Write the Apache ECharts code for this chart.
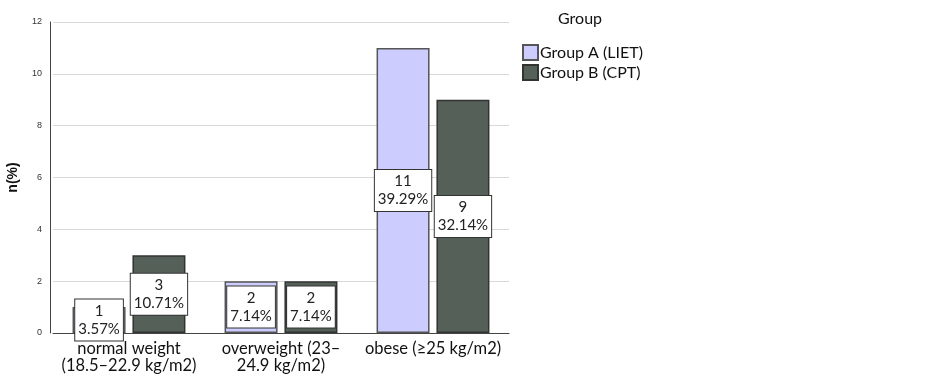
<!DOCTYPE html>
<html>
<head>
<meta charset="utf-8">
<script src="https://cdn.jsdelivr.net/npm/echarts@6/dist/echarts.min.js"></script>
<style>
  html, body { margin: 0; padding: 0; background: #fff; }
  #chart { width: 926px; height: 377px; }
</style>
</head>
<body>
<div id="chart"></div>
<script>
  var categories = ['normal weight\n(18.5–22.9 kg/m2)', 'overweight (23–\n24.9 kg/m2)', 'obese (≥25 kg/m2)']
  var groupA = [1, 2, 11]
  var groupB = [3, 2, 9]
  var pctA = ['3.57%', '7.14%', '39.29%']
  var pctB = ['10.71%', '7.14%', '32.14%']
  var yTicks = [0, 2, 4, 6, 8, 10, 12]

  var labelFont = 'Lato, "Open Sans", sans-serif'

  function boxLabel (pcts) {
    return {
      show: true,
      position: 'inside',
      formatter: function (p) {
        return p.value + '\n' + pcts[p.dataIndex]
      },
      color: '#222',
      fontFamily: labelFont,
      fontSize: 15,
      lineHeight: 18,
      backgroundColor: '#fff',
      borderColor: '#333',
      borderWidth: 1,
      padding: [3, 3, 2, 3],
      align: 'center'
    }
  }

  var myChart = echarts.init(document.getElementById('chart'))
  myChart.setOption({
    animation: false,
    legend: {
      data: ['Group A (LIET)', 'Group B (CPT)'],
      left: 517,
      top: 39,
      orient: 'vertical',
      icon: 'rect',
      itemWidth: 15,
      itemHeight: 15,
      itemGap: 3,
      textStyle: { fontFamily: labelFont, fontSize: 16, color: '#111', padding: [0, 0, 0, -3] }
    },
    graphic: [{
      type: 'text',
      left: 558,
      top: 11,
      style: { text: 'Group', fontFamily: labelFont, fontSize: 16, fill: '#111' }
    }],
    grid: {
      left: 53,
      right: 417,
      top: 22,
      bottom: 44
    },
    xAxis: {
      type: 'category',
      data: categories,
      axisLine: { lineStyle: { color: '#444' } },
      axisTick: { show: false },
      axisLabel: {
        interval: 0,
        margin: 7,
        fontFamily: labelFont,
        fontSize: 16.5,
        lineHeight: 17,
        color: '#111'
      }
    },
    yAxis: {
      type: 'value',
      min: 0,
      max: yTicks[yTicks.length - 1],
      interval: 2,
      offset: 3,
      name: 'n(%)',
      nameLocation: 'middle',
      nameGap: 30,
      nameTextStyle: { fontFamily: 'Liberation Sans, Arial, sans-serif', fontSize: 14, fontWeight: 'bold', color: '#111' },
      axisLine: { show: true, lineStyle: { color: '#444' } },
      axisTick: { show: false },
      axisLabel: { fontFamily: 'Liberation Sans, Arial, sans-serif', fontSize: 9, color: '#333', margin: 8 },
      splitLine: { lineStyle: { color: '#d9d9d9', width: 1 } }
    },
    series: [
      {
        name: 'Group A (LIET)',
        type: 'bar',
        barWidth: 53,
        barGap: '13%',
        itemStyle: { color: '#ccccff', borderColor: '#555', borderWidth: 1.5 },
        label: boxLabel(pctA),
        data: groupA
      },
      {
        name: 'Group B (CPT)',
        type: 'bar',
        barWidth: 53,
        barGap: '13%',
        itemStyle: { color: '#556058', borderColor: '#333', borderWidth: 1.5 },
        label: boxLabel(pctB),
        data: groupB
      }
    ]
  })
</script>
</body>
</html>
